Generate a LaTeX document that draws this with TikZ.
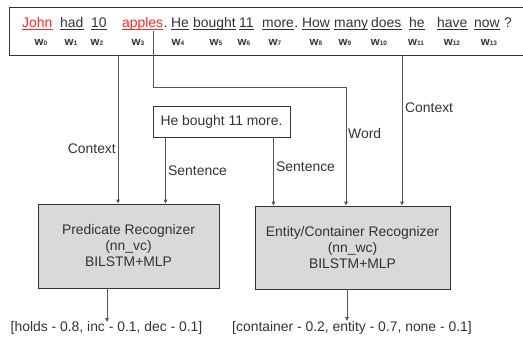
\documentclass[tikz,border=0pt]{standalone}
\usepackage{fontspec}
\setmainfont{Liberation Sans}
\usetikzlibrary{arrows.meta}
\definecolor{txt}{HTML}{333333}
\definecolor{redw}{HTML}{FF2626}
\definecolor{ln}{HTML}{555555}
\definecolor{boxfill}{HTML}{D9D9D9}
\newcommand\wsub[1]{w{\fontsize{6.5}{7}\selectfont #1}}
\begin{document}
\begin{tikzpicture}[x=1pt,y=-1pt,
  every node/.style={font=\fontsize{13.9}{16}\selectfont, text=txt, inner sep=0pt},
  word/.style={anchor=base west},
  wlab/.style={anchor=base, font=\fontsize{11.5}{13}\selectfont\bfseries},
  ulgray/.style={draw=txt, line width=0.8pt},
  ulred/.style={draw=redw, line width=0.8pt},
  conn/.style={draw=ln, line width=0.9pt, -{Triangle[width=3.6pt,length=4pt]}},
  frame/.style={draw=txt, line width=0.9pt},
  recog/.style={frame, fill=boxfill, align=center}
]
\useasboundingbox (0,0) rectangle (523,341);
% top sentence frame
\node[frame, anchor=north west, minimum width=530pt, minimum height=48pt] (top) at (9,7) {};
% words
\node[word, text=redw] (t0) at (22,27) {John};
\node[word, text=redw] (t3) at (122,27) {apples\rlap{\textcolor{txt}{\kern0.5pt.}}};
\node[word] (t7) at (262,27) {more\rlap{\kern0.5pt.}};
\draw[ulgray] ([yshift=-2pt]t7.base west) -- ([yshift=-2pt]t7.base east);
\foreach \n/\x/\t in {1/60/had, 2/91/10, 4/171/He, 5/193/bought, 6/239/11, 8/302/How, 9/334/many, 10/371/does, 11/409/he, 12/437/have, 13/474/now}{
  \node[word] (t\n) at (\x,27) {\t};
  \draw[ulgray] ([yshift=-2pt]t\n.base west) -- ([yshift=-2pt]t\n.base east);
}
\draw[ulred] ([yshift=-2pt]t0.base west) -- ([yshift=-2pt]t0.base east);
\draw[ulred] ([yshift=-2pt]t3.base west) -- ([yshift=-2pt]t3.base east);
\node[word] (q13) at ([xshift=4pt]t13.base east) {?};
% word indices
\foreach \n/\x in {0/41, 1/71, 2/97, 3/138, 4/178, 5/216, 6/244, 7/275, 8/316, 9/345, 10/379, 11/416, 12/452, 13/489}{
  \node[wlab] (w\n) at (\x,45) {\wsub{\n}};
}
% sentence box
\node[frame, minimum width=137pt, minimum height=31pt] (sent) at (221.5,121.5) {He bought 11 more.};
% recognizers
\node[recog, minimum width=181pt, minimum height=84pt] (pred) at (128.5,246) {Predicate Recognizer\\(nn\_vc)\\BILSTM+MLP};
\node[recog, minimum width=195pt, minimum height=83pt] (ent) at (352.5,247.5) {Entity/Container Recognizer\\(nn\_wc)\\BILSTM+MLP};
% outputs
\node[anchor=base] (o1) at (106.5,331) {[holds - 0.8, inc - 0.1, dec - 0.1]};
\node[anchor=base] (o2) at (352,331) {[container - 0.2, entity - 0.7, none - 0.1]};
% connector points
\coordinate (c1) at (118,55);
\coordinate (c2) at (402,55);
\coordinate (a0) at (153,31);
\coordinate (a1) at (346,87);
\coordinate (s1) at ([xshift=13pt]sent.south west);
\coordinate (s2) at ([xshift=-17pt]sent.south east);
\coordinate (r1) at ([xshift=-21.5pt]pred.south);
\coordinate (r2) at ([xshift=-5.5pt]ent.south);
\coordinate (e1) at (107,322);
\coordinate (e2) at (347,321);
% connectors
\draw[conn] (c1) -- (c1 |- pred.north);
\draw[conn] (s1) -- (s1 |- pred.north);
\draw[conn] (s2) -- (s2 |- ent.north);
\draw[conn] (a0) |- (a1) -- (a1 |- ent.north);
\draw[conn] (c2) -- (c2 |- ent.north);
\draw[conn] (r1) -- (e1);
\draw[conn] (r2) -- (e2);
% connector labels
\node[anchor=east] (l1) at (116,149) {Context};
\node[anchor=west] (l2) at (168,171) {Sentence};
\node[anchor=west] (l3) at (276,167) {Sentence};
\node[anchor=west] (l4) at (348,134) {Word};
\node[anchor=west] (l5) at (405,108) {Context};
\end{tikzpicture}
\end{document}
